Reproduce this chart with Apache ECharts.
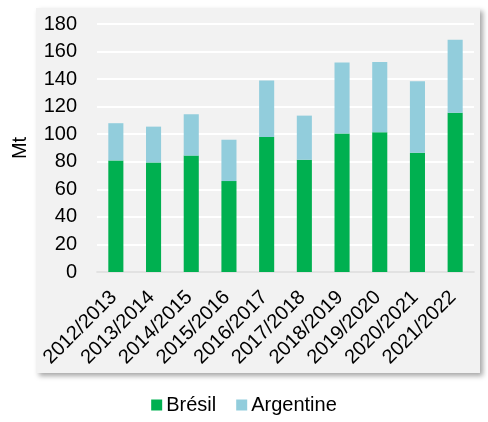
<!DOCTYPE html>
<html>
<head>
<meta charset="utf-8">
<script src="https://cdn.jsdelivr.net/npm/echarts@6/dist/echarts.min.js"></script>
<style>
  html, body { margin: 0; padding: 0; background: #ffffff; }
  #chart { width: 488px; height: 422px; }
</style>
</head>
<body>
<div id="chart"></div>
<script>
// Campaigns (marketing years)
const campagnes = ['2012/2013', '2013/2014', '2014/2015', '2015/2016', '2016/2017',
                   '2017/2018', '2018/2019', '2019/2020', '2020/2021', '2021/2022'];
// Production in million tonnes, stacked
const bresil    = [81, 79.5, 84.5, 66, 98, 81.5, 100.5, 101.5, 86.5, 115.5];
const argentine = [27, 26, 30, 30, 41, 32, 51.5, 51, 52, 53];
const yTicks = { min: 0, max: 180, step: 20 };

const chart = echarts.init(document.getElementById('chart'), null, { renderer: 'canvas' });
const font = 'Liberation Sans, Arial, sans-serif';

chart.setOption({
  backgroundColor: '#ffffff',
  animation: false,
  graphic: [{
    type: 'rect',
    z: -10,
    shape: { x: 36, y: 8, width: 444, height: 365 },
    style: {
      fill: '#f2f2f2',
      shadowBlur: 5,
      shadowOffsetX: 3,
      shadowOffsetY: 3,
      shadowColor: 'rgba(0,0,0,0.35)'
    }
  }],
  grid: { left: 97, right: 14, top: 24, bottom: 150 },
  legend: {
    bottom: 2,
    left: 'center',
    itemWidth: 11,
    itemHeight: 11,
    itemGap: 20,
    icon: 'rect',
    textStyle: { fontFamily: font, fontSize: 20, color: '#000', padding: [0, 0, 0, -1] },
    data: ['Brésil', 'Argentine']
  },
  xAxis: {
    type: 'category',
    data: campagnes,
    axisLine: { show: true, lineStyle: { color: '#d9d9d9', width: 1.5 } },
    axisTick: { show: false },
    axisLabel: {
      rotate: 45,
      interval: 0,
      margin: 20,
      padding: [0, 3, 0, 0],
      fontFamily: font,
      fontSize: 20,
      color: '#000'
    }
  },
  yAxis: {
    type: 'value',
    min: yTicks.min,
    max: yTicks.max,
    interval: yTicks.step,
    name: 'Mt',
    nameLocation: 'middle',
    nameGap: 67,
    nameRotate: 90,
    nameTextStyle: { fontFamily: font, fontSize: 20, color: '#000' },
    axisLine: { show: false },
    axisTick: { show: false },
    axisLabel: { fontFamily: font, fontSize: 20, color: '#000', margin: 20 },
    splitLine: { lineStyle: { color: '#ffffff', width: 2 } }
  },
  series: [
    {
      name: 'Brésil',
      type: 'bar',
      stack: 'total',
      barWidth: '40%',
      itemStyle: { color: '#00b050' },
      data: bresil
    },
    {
      name: 'Argentine',
      type: 'bar',
      stack: 'total',
      barWidth: '40%',
      itemStyle: { color: '#92cddc' },
      data: argentine
    }
  ]
});
</script>
</body>
</html>
